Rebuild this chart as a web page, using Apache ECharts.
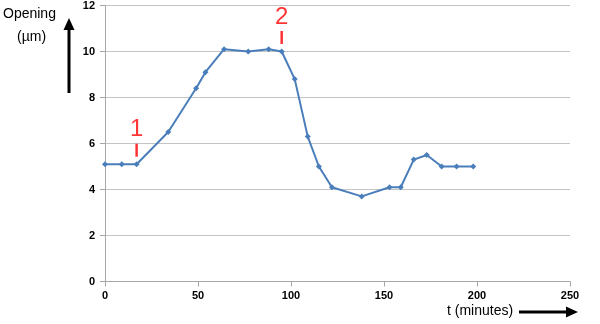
<!DOCTYPE html>
<html>
<head>
<meta charset="utf-8">
<script src="https://cdn.jsdelivr.net/npm/echarts@6/dist/echarts.min.js"></script>
<style>
html,body{margin:0;padding:0;background:#fff;}
#c{width:600px;height:324px;}
</style>
</head>
<body>
<div id="c"></div>
<script>
var times = [0, 9, 17, 34, 49, 54, 64, 77, 88, 95, 102, 109, 115, 122, 138, 153, 159, 166, 173, 181, 189, 198];
var opening = [5.1, 5.1, 5.1, 6.5, 8.4, 9.1, 10.1, 10.0, 10.1, 10.0, 8.8, 6.3, 5.0, 4.1, 3.7, 4.1, 4.1, 5.3, 5.5, 5.0, 5.0, 5.0];
var xTicks = [0, 50, 100, 150, 200, 250];
var yTicks = [0, 2, 4, 6, 8, 10, 12];
var markerLabels = ['1', '2'];
var markerTimes = [17, 95];
var markerValues = [5.1, 10.0];
var yTitle = ['Opening', '(µm)'];
var xTitle = 't (minutes)';

var chart = echarts.init(document.getElementById('c'), null, {renderer: 'canvas'});
var FONT = 'Liberation Sans, Arial, sans-serif';
var lineData = times.map(function (t, i) { return [t, opening[i]]; });
var annData = markerTimes.map(function (t, i) { return {value: [t, markerValues[i]], name: markerLabels[i]}; });

chart.setOption({
  animation: false,
  backgroundColor: '#ffffff',
  grid: {left: 105, right: 30, top: 5, bottom: 42.5, containLabel: false},
  xAxis: {
    type: 'value', min: xTicks[0], max: xTicks[xTicks.length - 1], interval: 50,
    axisLine: {show: true, lineStyle: {color: '#a6a6a6', width: 1}},
    axisTick: {show: true, length: 5, lineStyle: {color: '#a6a6a6'}},
    axisLabel: {color: '#000', fontSize: 11, fontWeight: 'bold', fontFamily: FONT, margin: 9},
    splitLine: {show: false}
  },
  yAxis: {
    type: 'value', min: yTicks[0], max: yTicks[yTicks.length - 1], interval: 2,
    axisLine: {show: true, lineStyle: {color: '#a6a6a6', width: 1}},
    axisTick: {show: true, length: 5, lineStyle: {color: '#a6a6a6'}},
    axisLabel: {color: '#000', fontSize: 11, fontWeight: 'bold', fontFamily: FONT, margin: 10},
    splitLine: {show: true, lineStyle: {color: '#c4c4c4', width: 1}}
  },
  series: [
    {
      type: 'line', data: lineData,
      symbol: 'diamond', symbolSize: 6,
      lineStyle: {color: '#4a7ebb', width: 2},
      itemStyle: {color: '#4a7ebb'},
      z: 3
    },
    {
      type: 'scatter', data: annData,
      symbol: 'rect', symbolSize: [2.5, 13], symbolOffset: [0, -14],
      itemStyle: {color: '#ff0000'},
      label: {show: true, position: 'top', distance: 0, formatter: '{b}',
        color: '#ff0000', fontSize: 24, fontFamily: FONT, offset: [0, -2]},
      z: 4
    }
  ],
  graphic: [
    {type: 'text', left: 3, top: 7, style: {text: yTitle[0], font: '14px ' + FONT, fill: '#000'}},
    {type: 'text', left: 17, top: 30, style: {text: yTitle[1], font: '14px ' + FONT, fill: '#000'}},
    {type: 'line', shape: {x1: 69, y1: 93, x2: 69, y2: 28}, style: {stroke: '#000', lineWidth: 3}},
    {type: 'polygon', shape: {points: [[69, 18], [63.5, 30], [74.5, 30]]}, style: {fill: '#000'}},
    {type: 'text', left: 447, top: 304, style: {text: xTitle, font: '14px ' + FONT, fill: '#000'}},
    {type: 'line', shape: {x1: 519, y1: 312, x2: 568, y2: 312}, style: {stroke: '#000', lineWidth: 3}},
    {type: 'polygon', shape: {points: [[578, 312], [566, 306.5], [566, 317.5]]}, style: {fill: '#000'}}
  ]
});
</script>
</body>
</html>
